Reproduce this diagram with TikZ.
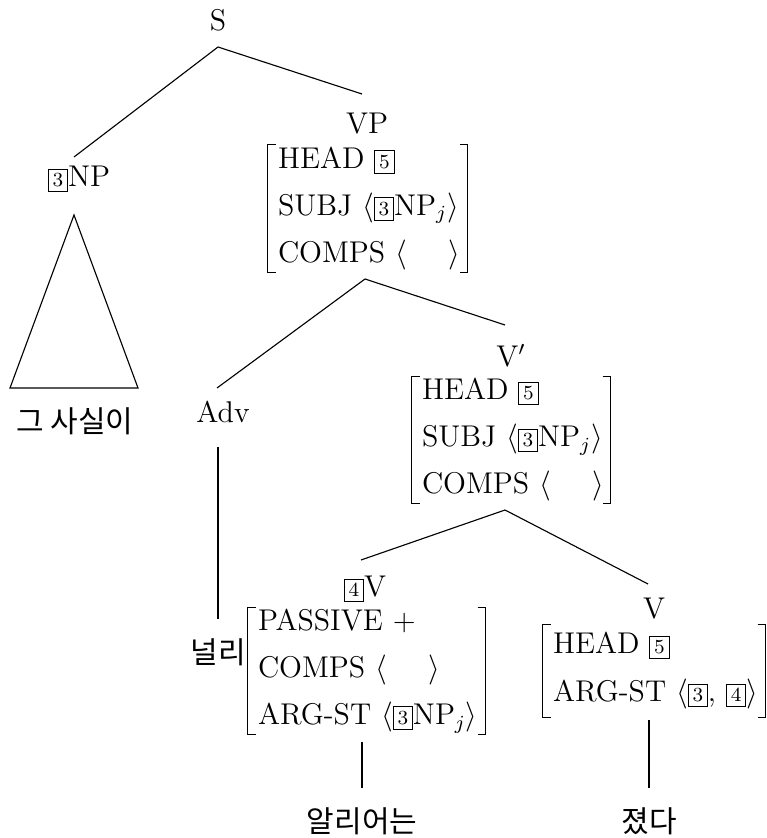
\documentclass[tikz,border=0pt]{standalone}
\usepackage{fontspec}
\newfontfamily\kr{Noto Sans CJK KR}
\usetikzlibrary{calc}
\newcommand{\bx}[1]{{\setlength{\fboxsep}{1.5pt}\setlength{\fboxrule}{0.4pt}\fbox{\fontsize{8}{9}\selectfont #1}}}
\newcommand{\rw}[1]{\mbox{#1}}
\newcommand{\brk}[1]{%
 \draw[bracket] ($(#1.north west)+(8,0)$) -- (#1.north west) -- (#1.south west) -- ++(8,0);
 \draw[bracket] ($(#1.north east)+(-8,0)$) -- (#1.north east) -- (#1.south east) -- ++(-8,0);}
\begin{document}
\begin{tikzpicture}[x=0.4pt,y=-0.4pt,
  lbl/.style={inner sep=0pt, font=\fontsize{12}{14.4}\selectfont},
  avm/.style={inner xsep=4pt, inner ysep=0pt, align=left, font=\fontsize{12}{18.8}\selectfont},
  kor/.style={inner sep=0pt, font=\kr\fontsize{12}{14.4}\selectfont},
  bracket/.style={line width=0.7pt},
  edge/.style={line width=0.45pt}]
\useasboundingbox (0,0) rectangle (766,838);

\node[lbl] (S) at (218,20) {S};
\node[lbl] (NP) at (79,179) {\bx{3}NP};
\node[kor] (k1) at (75,421) {그 사실이};
\node[lbl] (VP) at (367,124) {VP};
\node[avm, text width=71.6pt, minimum height=50.8pt] (vpavm) at (367.5,208.5)
  {\rw{HEAD \bx{5}}\\ \rw{SUBJ $\langle$\bx{3}NP$_j\rangle$}\\ \rw{COMPS $\langle\hspace{1.4em}\rangle$}};
\node[lbl] (Adv) at (223,412) {Adv};
\node[lbl] (Vb) at (511,356) {V$'$};
\node[avm, text width=71.2pt, minimum height=50.4pt] (vbavm) at (511,440)
  {\rw{HEAD \bx{5}}\\ \rw{SUBJ $\langle$\bx{3}NP$_j\rangle$}\\ \rw{COMPS $\langle\hspace{1.4em}\rangle$}};
\node[kor] (nr) at (218,652) {널리};
\node[lbl] (V4) at (365,589) {\bx{4}V};
\node[avm, text width=86.8pt, minimum height=50.4pt] (v4avm) at (366.5,671)
  {\rw{PASSIVE $+$}\\ \rw{COMPS $\langle\hspace{1.4em}\rangle$}\\ \rw{ARG-ST $\langle$\bx{3}NP$_j\rangle$}};
\node[lbl] (V) at (654,609) {V};
\node[avm, text width=80.8pt, minimum height=36.8pt, font=\fontsize{12}{19.2}\selectfont] (vavm) at (654,671)
  {\rw{HEAD \bx{5}}\\ \rw{ARG-ST $\langle$\bx{3}, \bx{4}$\rangle$}};
\node[kor] (k2) at (362,821) {알리어는};
\node[kor] (k3) at (649,821) {졌다};

\brk{vpavm}
\brk{vbavm}
\brk{v4avm}
\brk{vavm}

\draw[edge] ($(S)+(0,27)$) -- ($(NP)+(-5,-22)$);
\draw[edge] ($(S)+(0,27)$) -- ($(VP)+(-5,-30)$);
\draw[edge] ($(NP)+(-5,36)$) -- ($(k1)+(-65,-33)$) -- ($(k1)+(63,-33)$) -- cycle;
\draw[edge] ($(vpavm)+(-2.5,70.5)$) -- ($(Adv)+(-6,-24)$);
\draw[edge] ($(vpavm)+(-2.5,70.5)$) -- ($(Vb)+(-6,-31)$);
\draw[edge] ($(Adv)+(-5,35)$) -- ($(nr)+(0,-33)$);
\draw[edge] ($(vbavm)+(-6,70)$) -- ($(V4)+(-4,-29)$);
\draw[edge] ($(vbavm)+(-6,70)$) -- ($(V)+(-6,-25)$);
\draw[edge] ($(v4avm)+(-4.5,71)$) -- ($(k2)+(0,-33)$);
\draw[edge] ($(vavm)+(-5,49)$) -- ($(k3)+(0,-33)$);
\end{tikzpicture}
\end{document}
